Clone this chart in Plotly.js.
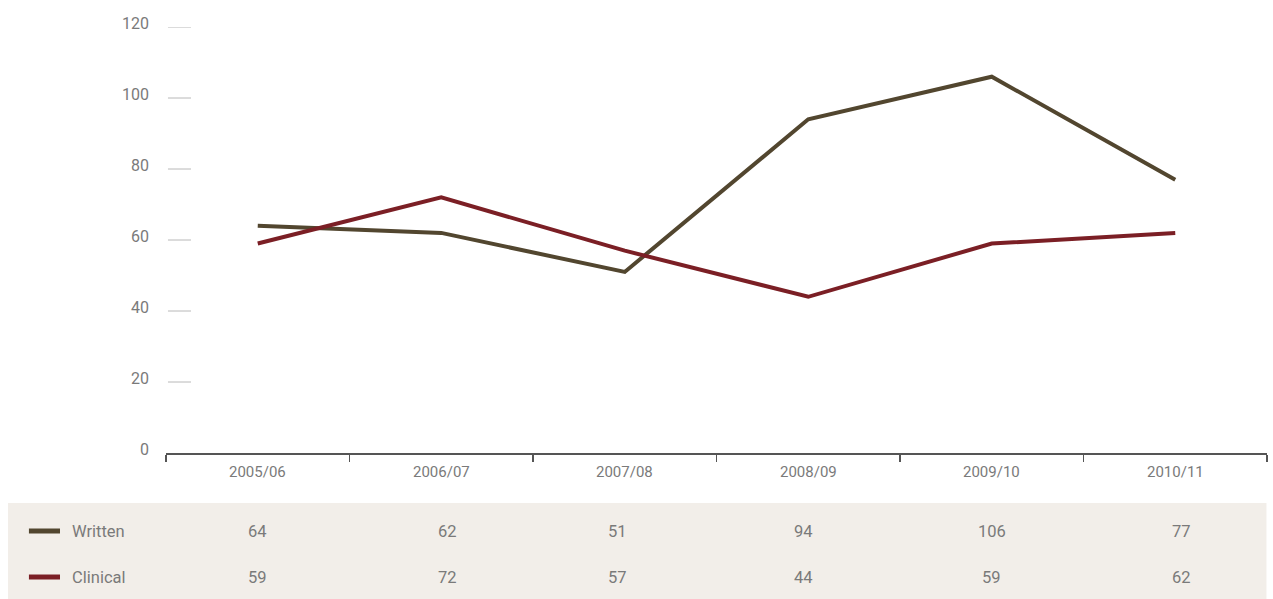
<!DOCTYPE html>
<html>
<head>
<meta charset="utf-8">
<script src="https://cdn.plot.ly/plotly-3.0.1.min.js"></script>
<style>html,body{margin:0;padding:0;background:#fff;}#chart{width:1273px;height:599px;}</style>
</head>
<body>
<div id="chart"></div>
<script>
const categories = ["2005/06", "2006/07", "2007/08", "2008/09", "2009/10", "2010/11"];
const written = [64, 62, 51, 94, 106, 77];
const clinical = [59, 72, 57, 44, 59, 62];
const seriesNames = ["Written", "Clinical"];
const seriesColors = ["#52462f", "#7b1f25"];
const yTicks = [0, 20, 40, 60, 80, 100, 120];
// style: small horizontal nudge (px) of table columns, as in the reference layout
const tableShift = [0, 6, -7, -5, 0, 6];

const xs = categories.map((c, i) => i);
const boundaries = categories.map((c, i) => i - 0.5).concat([categories.length - 0.5]);
const seriesValues = [written, clinical];

const traces = seriesValues.map((vals, k) => ({
  x: xs, y: vals, type: "scatter", mode: "lines", name: seriesNames[k],
  line: {color: seriesColors[k], width: 4}, hoverinfo: "skip", showlegend: false
}));

const textColor = "#7a7a7a";
const font = "Roboto, 'DejaVu Sans', sans-serif";
const rowY = [-0.1831, -0.2911];

const annotations = [];
yTicks.forEach(v => {
  annotations.push({x: -0.0136, y: v, xref: "paper", yref: "y", text: String(v), showarrow: false, yshift: 4,
    font: {family: font, size: 16, color: textColor}, xanchor: "right", yanchor: "middle"});
});
categories.forEach((c, i) => {
  annotations.push({x: i, y: -0.045, xref: "x", yref: "paper", text: c, showarrow: false,
    font: {family: font, size: 15, color: textColor}, xanchor: "center", yanchor: "middle"});
});
seriesValues.forEach((vals, k) => {
  annotations.push({x: -0.0875, y: rowY[k], xref: "paper", yref: "paper", text: seriesNames[k], showarrow: false,
    font: {family: font, size: 16.5, color: textColor}, xanchor: "left", yanchor: "middle"});
  vals.forEach((v, i) => {
    annotations.push({x: i, y: rowY[k], xref: "x", yref: "paper", text: String(v), showarrow: false,
      xshift: tableShift[i],
      font: {family: font, size: 16.5, color: textColor}, xanchor: "center", yanchor: "middle"});
  });
});

const shapes = [
  {type: "rect", xref: "paper", yref: "paper", x0: -0.1435, x1: 0.9995, y0: -0.3427, y1: -0.1174,
   fillcolor: "#f2eee9", line: {width: 0}, layer: "below"}
];
seriesColors.forEach((col, k) => {
  shapes.push({type: "line", xref: "paper", yref: "paper", x0: -0.1245, x1: -0.0963, y0: rowY[k], y1: rowY[k],
    line: {color: col, width: 5}});
});
yTicks.filter(v => v > 0).forEach(v => {
  shapes.push({type: "line", xref: "paper", yref: "y", x0: 0.0018, x1: 0.0227, y0: v, y1: v,
    line: {color: "#b8b8b8", width: 1}});
});

const layout = {
  width: 1273, height: 599,
  margin: {l: 166, r: 6, t: 27, b: 146},
  paper_bgcolor: "#ffffff", plot_bgcolor: "#ffffff",
  showlegend: false,
  xaxis: {
    range: [-0.5, categories.length - 0.5], tickvals: boundaries, ticktext: boundaries.map(() => ""),
    showticklabels: false, ticks: "outside", ticklen: 7, tickcolor: "#555", tickwidth: 1.5,
    showline: true, linecolor: "#555", linewidth: 1.5, showgrid: false, zeroline: false, fixedrange: true
  },
  yaxis: {
    range: [0, 120], tickvals: yTicks, ticks: "", showticklabels: false,
    showline: false, showgrid: false, zeroline: false, fixedrange: true
  },
  annotations: annotations,
  shapes: shapes
};

Plotly.newPlot("chart", traces, layout, {displayModeBar: false, staticPlot: true});
</script>
</body>
</html>
